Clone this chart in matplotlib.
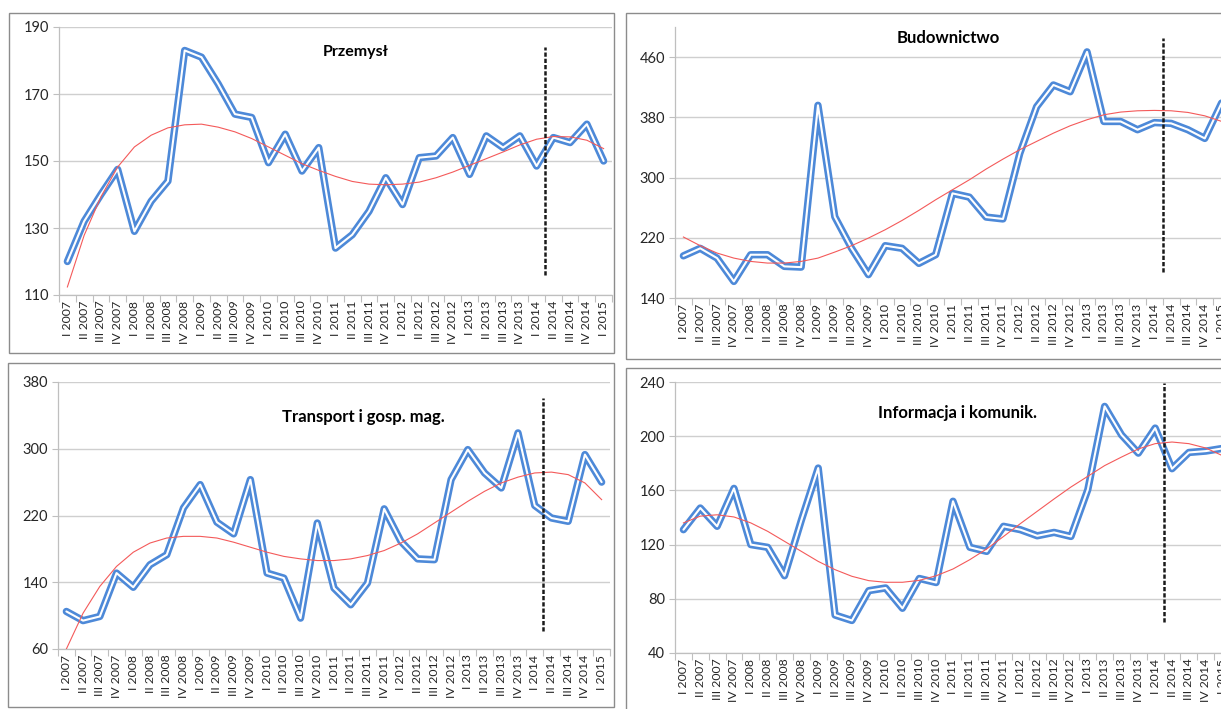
import numpy as np
import matplotlib
matplotlib.use('Agg')
import matplotlib.pyplot as plt
from matplotlib.patches import Rectangle

plt.rcParams['font.family'] = ['Lato', 'DejaVu Sans']

roman = ['I', 'II', 'III', 'IV']
quarters = [f'{q} {y}' for y in range(2007, 2015) for q in roman] + ['I 2015']

przemysl = [120, 132, 140, 147.5, 129, 138, 144, 183, 181, 173, 164, 163,
            149.5, 158, 147, 154, 124, 128, 135, 145, 137, 151, 151.5, 157,
            146, 157.5, 154, 157.5, 148.5, 157, 155.5, 161, 150]
przemysl_trend = [112.4, 127.8, 139.3, 148.2, 154.2, 157.7, 159.9, 160.8, 161,
                  160.1, 158.7, 156.7, 154.2, 151.7, 149.2, 147.2, 145.4, 143.9,
                  143.1, 142.9, 143.1, 143.7, 145, 146.7, 148.7, 150.7, 152.7,
                  154.8, 156.5, 157.3, 157.2, 156.2, 153.7]

budownictwo = [196, 206, 193, 162, 197.5, 197.5, 182, 181, 396, 248, 206, 171,
               209.5, 206, 186, 197.5, 279, 274, 247.5, 245, 332, 394, 423, 414,
               467, 374.5, 374.5, 363.5, 373, 372, 363.5, 352, 399]
budownictwo_trend = [221, 209.5, 199.7, 193, 188.6, 186.4, 186.4, 188.6, 193,
                     201, 209.5, 219.6, 230.7, 243, 256.4, 270.5, 283.8, 297,
                     311.3, 324.5, 337, 348, 359, 368.8, 376.8, 383.4, 387,
                     388.7, 389.2, 388.7, 386.5, 382, 374.6]

transport = [105, 94, 99, 151, 134, 161, 173, 229, 257, 212, 198, 263, 151,
             145, 97, 211, 133, 113, 139, 228, 189, 168, 167, 263, 299, 271,
             253, 319, 232, 217, 213, 293, 260]
transport_trend = [60, 103, 135, 159, 176, 187, 193, 195, 195, 193, 188, 182,
                   176, 171, 168, 166, 166, 168, 172, 178, 187, 198, 211, 224,
                   237, 249, 259, 266, 271, 272, 269, 259, 239]

informacja = [131, 147, 133.5, 161.5, 120, 118, 97, 138, 176.5, 68, 64, 86, 88,
              73, 95, 92, 152, 118, 115, 133.5, 131, 126.5, 129, 126, 160.5,
              222, 201, 187.5, 206, 176, 188, 189, 191]
informacja_trend = [136, 141, 142, 140.4, 136, 129.8, 122.4, 115, 107.6, 101.5,
                    96.6, 93.4, 92.2, 92.2, 93.6, 97, 102, 108.9, 116.8, 126,
                    135.5, 144.6, 153.7, 162.5, 170.4, 178.3, 184.6, 190.6,
                    194.5, 195.7, 194.5, 191.3, 185.6]

W, H = 1221, 709
fig = plt.figure(figsize=(W / 100, H / 100), dpi=100)
fig.patch.set_facecolor('white')


def box(x0, y0, x1, y1):
    fig.patches.append(Rectangle((x0 / W, 1 - y1 / H), (x1 - x0) / W, (y1 - y0) / H,
                                 transform=fig.transFigure, fill=False,
                                 edgecolor='#8c8c8c', lw=1.0))


def panel(area, title, title_xy, title_size, values, trend, yticks, ylim, dash_y):
    x0, y0, x1, y1 = area
    ax = fig.add_axes([x0 / W, 1 - y1 / H, (x1 - x0) / W, (y1 - y0) / H])
    x = np.arange(len(quarters))
    # double line: thick blue with a thin white core
    ax.plot(x, values, color='#4d89d8', lw=5.3, solid_joinstyle='round',
            solid_capstyle='round', zorder=3)
    ax.plot(x, values, color='white', lw=1.5, solid_joinstyle='round',
            solid_capstyle='round', zorder=4)
    ax.plot(x, trend, color='#f45a5a', lw=0.8, zorder=5)
    ax.plot([28.5, 28.5], dash_y, color='#1a1a1a', lw=1.8,
            linestyle=(0, (1.7, 0.8)), zorder=6)

    ax.set_xlim(-0.5, len(quarters) - 0.5)
    ax.set_ylim(*ylim)
    ax.set_yticks(yticks)
    ax.set_yticklabels([str(t) for t in yticks], fontsize=10.5, color='#262626')
    ax.tick_params(axis='y', length=4, color='#bfbfbf', width=0.8, pad=3)
    ax.grid(axis='y', color='#cfcfcf', lw=1.0)
    ax.set_axisbelow(True)

    ax.set_xticks(np.arange(-0.5, len(quarters), 1))
    ax.set_xticklabels([])
    ax.set_xticks(x, minor=True)
    ax.set_xticklabels(quarters, minor=True, rotation=90, fontsize=8.8,
                       color='#262626')
    ax.tick_params(axis='x', which='major', length=5, color='#bfbfbf', width=0.8)
    ax.tick_params(axis='x', which='minor', length=0, pad=4)

    for s in ['top', 'right']:
        ax.spines[s].set_visible(False)
    for s in ['left', 'bottom']:
        ax.spines[s].set_color('#bfbfbf')
        ax.spines[s].set_linewidth(0.9)
    ax.patch.set_alpha(0)

    fig.text(title_xy[0] / W, 1 - title_xy[1] / H, title, ha='center',
             va='center', fontsize=title_size, fontweight='bold', color='black')
    return ax


box(9, 13, 614, 353)
box(626, 13, 1240, 359)
box(8, 363, 614, 707)
box(626, 368, 1240, 720)

panel((59, 27, 612, 295), 'Przemysł', (356, 52), 11.5, przemysl, przemysl_trend,
      [110, 130, 150, 170, 190], (110, 190), [116, 184])
panel((675, 27, 1230, 298), 'Budownictwo', (948, 38), 12, budownictwo,
      budownictwo_trend, [140, 220, 300, 380, 460], (140, 500), [175, 485])
panel((58, 382, 610, 649), 'Transport i gosp. mag.', (363, 417), 12, transport,
      transport_trend, [60, 140, 220, 300, 380], (60, 380), [81, 361])
panel((675, 382, 1231, 653), 'Informacja i komunik.', (957, 413), 12, informacja,
      informacja_trend, [40, 80, 120, 160, 200, 240], (40, 240), [63, 239])

fig.savefig('out.png', dpi=100)
